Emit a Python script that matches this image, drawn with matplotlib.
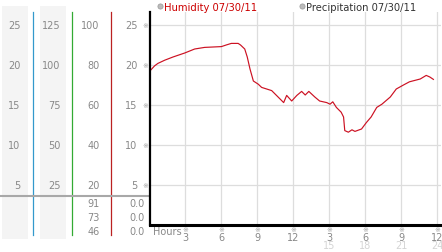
import numpy as np
import matplotlib
matplotlib.use("Agg")
import matplotlib.pyplot as plt
import matplotlib.transforms as mtransforms

# humidity trace (hours since midnight, value)
hours = [0, 0.43, 0.7, 1.27, 1.96, 2.94, 3.77, 4.6, 6.0, 6.4,
         6.83, 7.4, 7.6, 7.95, 8.16, 8.39, 8.67, 9.08, 9.36, 9.78,
         10.2, 10.6, 11.2, 11.45, 11.87, 12.3, 12.7, 13.0, 13.3, 13.8,
         14.2, 14.8, 15.07, 15.3, 15.6, 16.0, 16.2, 16.3, 16.6, 16.9,
         17.15, 17.7, 18.1, 18.5, 18.97, 19.4, 20.1, 20.6, 21.2, 21.7,
         22.6, 23.1, 23.4, 23.7]
humidity = [19.2, 19.9, 20.2, 20.6, 21.0, 21.5, 22.0, 22.2, 22.3, 22.5,
            22.7, 22.7, 22.5, 22.0, 21.0, 19.5, 18.0, 17.6, 17.2, 17.0,
            16.8, 16.2, 15.3, 16.2, 15.5, 16.2, 16.7, 16.25, 16.7, 16.0,
            15.5, 15.3, 15.1, 15.4, 14.7, 14.1, 13.5, 11.8, 11.6, 11.9,
            11.7, 12.0, 12.8, 13.5, 14.7, 15.1, 16.0, 17.0, 17.5, 17.9,
            18.25, 18.7, 18.5, 18.2]

y_ticks = [25, 20, 15, 10, 5]
col2_labels = ["125", "100", "75", "50", "25"]
col3_labels = ["100", "80", "60", "40", "20"]
bottom_col3 = ["91", "73", "46"]
bottom_col4 = ["0.0", "0.0", "0.0"]
x_ticks = [3, 6, 9, 12, 15, 18, 21, 24]
x_top = ["3", "6", "9", "12", "3", "6", "9", "12"]
x_bottom = ["", "", "", "", "15", "18", "21", "24"]

W, H = 442, 253
fig = plt.figure(figsize=(W / 100, H / 100), dpi=100)
plt.rcParams['font.family'] = ['DejaVu Sans']

# overlay in pixel coordinates for the left-hand scale panel
bg = fig.add_axes([0, 0, 1, 1])
bg.set_xlim(0, W)
bg.set_ylim(H, 0)
bg.axis('off')

ax = fig.add_axes([149.5 / W, (H - 226) / H, (441 - 149.5) / W, (226 - 13) / H])
ax.set_xlim(0, (441 - 149.5) / (287.5 / 24))
ax.set_ylim(0, (226 - 13) / 8)
ax.set_zorder(2)
ax.patch.set_alpha(0)

# panel decoration
for x0, x1 in [(2, 28), (40, 66)]:
    bg.fill_between([x0, x1], 7, 240, color='#f4f4f4', lw=0)
for x, c in [(33.3, '#3399cc'), (72.3, '#33aa33'), (111, '#bb2222')]:
    bg.plot([x, x], [12.5, 236], color=c, lw=0.9)
bg.plot([0, 149], [196.7, 196.7], color='#a8a8a8', lw=1.5)

gray = '#888888'
mark = '#a0a0a0'
mix = mtransforms.blended_transform_factory(bg.transData, ax.transData)
for v, l2, l3 in zip(y_ticks, col2_labels, col3_labels):
    kw = dict(transform=mix, va='center', ha='right', fontsize=7, color=gray)
    ax.text(20.5, v, str(v), **kw)
    ax.text(60.5, v, l2, **kw)
    ax.text(99.5, v, l3, **kw)
    ax.text(137.5, v, str(v), **kw)
    ax.text(145, v, '※', transform=mix, va='center', ha='center',
            fontsize=5, color=mark)

for yy, a, b in zip([204, 218, 232.5], bottom_col3, bottom_col4):
    bg.text(99.5, yy, a, va='center', ha='right', fontsize=7, color=gray)
    bg.text(144.5, yy, b, va='center', ha='right', fontsize=7, color=gray)

# legend header
bg.scatter([160, 301.5], [7, 7], s=14, color='#bbbbbb', edgecolor='#999999', lw=0.5)
bg.text(164, 7.5, 'Humidity 07/30/11', va='center', ha='left', fontsize=7.2, color='#cc0000')
bg.text(305.5, 7.5, 'Precipitation 07/30/11', va='center', ha='left', fontsize=7.2, color='#333333')

# main chart
ax.plot(hours, humidity, color='#cc1122', lw=0.85)
for t in x_ticks:
    ax.axvline(t, color='#dddddd', lw=0.9, zorder=0)
for v in y_ticks:
    ax.axhline(v, color='#dddddd', lw=0.9, zorder=0)

for s in ['top', 'right']:
    ax.spines[s].set_visible(False)
ax.spines['left'].set_linewidth(1.6)
ax.spines['bottom'].set_linewidth(2.2)
ax.set_xticks([])
ax.set_yticks([])

mx = mtransforms.blended_transform_factory(ax.transData, bg.transData)
bg.text(153, 232, 'Hours', va='center', ha='left', fontsize=7, color=gray)
for t, a, b in zip(x_ticks, x_top, x_bottom):
    bg.text(t, 230.5, '※', transform=mx, va='center', ha='center', fontsize=5, color=mark)
    bg.text(t, 238, a, transform=mx, va='center', ha='center', fontsize=7, color=gray)
    if b:
        bg.text(t, 246.5, b, transform=mx, va='center', ha='center', fontsize=7, color='#d4d4d4')

fig.savefig('out.png', dpi=100)
